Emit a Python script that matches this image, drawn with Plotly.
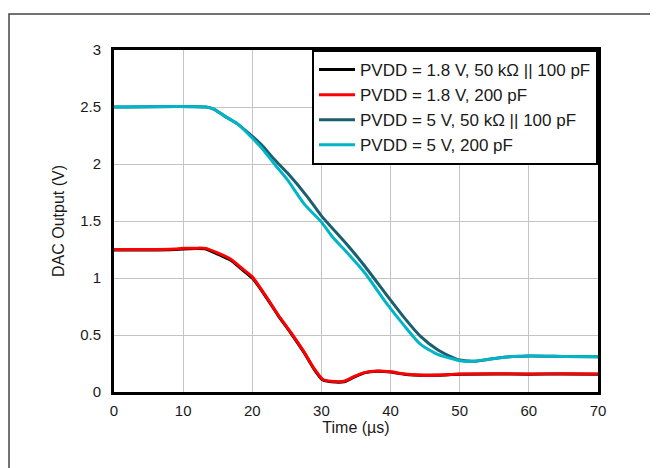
import plotly.graph_objects as go

# ---- data ----
t_red = [0, 5, 8.8, 10, 12.1, 13.3, 15.0, 16.9, 18.4, 20.0, 21.75, 23.7, 25.6, 27.5, 29.0, 30.2, 31.4, 33.3, 34.7, 36.2, 38.1, 40.0, 42.0, 45.0, 48.0, 50.0, 55.0, 60.0, 65.0, 70.0]
v_red = [1.25, 1.25, 1.255, 1.26, 1.262, 1.26, 1.22, 1.165, 1.09, 1.01, 0.86, 0.68, 0.52, 0.35, 0.20, 0.11, 0.095, 0.095, 0.135, 0.17, 0.185, 0.177, 0.158, 0.148, 0.152, 0.158, 0.16, 0.158, 0.16, 0.158]

t_blk = [0, 5, 8.8, 10, 12.1, 13.3, 15.0, 16.9, 18.4, 20.0, 21.75, 23.7, 25.6, 27.5, 29.0, 30.2, 31.4, 33.3, 34.7, 36.2, 38.1, 40.0, 42.0, 45.0, 48.0, 50.0, 55.0, 60.0, 65.0, 70.0]
v_blk = [1.245, 1.245, 1.25, 1.255, 1.258, 1.255, 1.21, 1.155, 1.08, 1.0, 0.855, 0.675, 0.515, 0.345, 0.195, 0.105, 0.09, 0.09, 0.13, 0.168, 0.182, 0.175, 0.155, 0.146, 0.15, 0.156, 0.158, 0.156, 0.158, 0.156]

t_dark = [0, 13.3, 14.5, 16.0, 17.9, 19.3, 21.3, 23.2, 25.1, 28.0, 30.0, 33.6, 36.2, 39.5, 42.0, 44.3, 46.8, 48.7, 50.0, 52.0, 54.0, 56.4, 60.0, 65.0, 70.0]
v_dark = [2.5, 2.5, 2.48, 2.42, 2.35, 2.28, 2.17, 2.04, 1.92, 1.71, 1.545, 1.30, 1.11, 0.845, 0.65, 0.49, 0.37, 0.31, 0.28, 0.27, 0.285, 0.305, 0.315, 0.312, 0.31]

t_cyan = [0, 13.3, 14.5, 16.0, 17.9, 19.3, 21.3, 23.2, 25.1, 27.5, 30.0, 31.6, 33.3, 36.2, 39.5, 42.0, 44.3, 46.8, 48.7, 50.0, 52.0, 54.0, 56.4, 60.0, 65.0, 70.0]
v_cyan = [2.5, 2.5, 2.48, 2.42, 2.35, 2.27, 2.145, 2.0, 1.86, 1.65, 1.49, 1.36, 1.25, 1.05, 0.77, 0.58, 0.42, 0.33, 0.295, 0.275, 0.27, 0.285, 0.305, 0.315, 0.312, 0.31]

names = ["PVDD = 1.8 V, 50 kΩ || 100 pF", "PVDD = 1.8 V, 200 pF",
         "PVDD = 5 V, 50 kΩ || 100 pF", "PVDD = 5 V, 200 pF"]
colors = ["#000000", "#FF0000", "#1B5F6E", "#00B5C6"]

x_ticks = [0, 10, 20, 30, 40, 50, 60, 70]
y_ticks = [0, 0.5, 1, 1.5, 2, 2.5, 3]

FONT = "Liberation Sans, Arial, sans-serif"

fig = go.Figure()
for t, v, n, c in zip([t_blk, t_red, t_dark, t_cyan], [v_blk, v_red, v_dark, v_cyan], names, colors):
    fig.add_trace(go.Scatter(x=t, y=v, mode="lines", name=n,
                             line=dict(color=c, width=3, shape="spline", smoothing=0.6)))

W, H = 658, 468
L, R, T, B = 106, 68, 42, 84
pw, ph = W - L - R, H - T - B

def px(x):
    return (x - L) / pw

def py(y):
    return (H - B - y) / ph

fig.update_layout(
    width=W, height=H,
    margin=dict(l=L, r=R, t=T, b=B),
    paper_bgcolor="white", plot_bgcolor="white",
    font=dict(family=FONT, size=15, color="#1a1a1a"),
    showlegend=True,
    legend=dict(x=1, y=1, xanchor="right", yanchor="top",
                bgcolor="white", bordercolor="black", borderwidth=2,
                font=dict(family=FONT, size=17, color="#1a1a1a"),
                itemwidth=36, tracegroupgap=0),
    xaxis=dict(range=[0, 70], tickvals=x_ticks, showgrid=True, gridcolor="#C4C4C4", gridwidth=1,
               showline=True, linecolor="black", linewidth=3, mirror=True, zeroline=False,
               ticks="", ticklabelstandoff=3,
               title=dict(text="Time (µs)", font=dict(size=16), standoff=2),
               tickfont=dict(size=15)),
    yaxis=dict(range=[0, 3], tickvals=y_ticks, showgrid=True, gridcolor="#C4C4C4", gridwidth=1,
               showline=True, linecolor="black", linewidth=3, mirror=True, zeroline=False,
               ticks="", ticklabelstandoff=7,
               title=dict(text="DAC Output (V)", font=dict(size=16), standoff=12),
               tickfont=dict(size=15)),
    shapes=[dict(type="rect", xref="paper", yref="paper",
                 x0=px(1), x1=px(656), y0=py(466), y1=py(6),
                 line=dict(color="#444444", width=1.5), fillcolor="rgba(0,0,0,0)", layer="below")],
)

fig.write_html("out.html")
